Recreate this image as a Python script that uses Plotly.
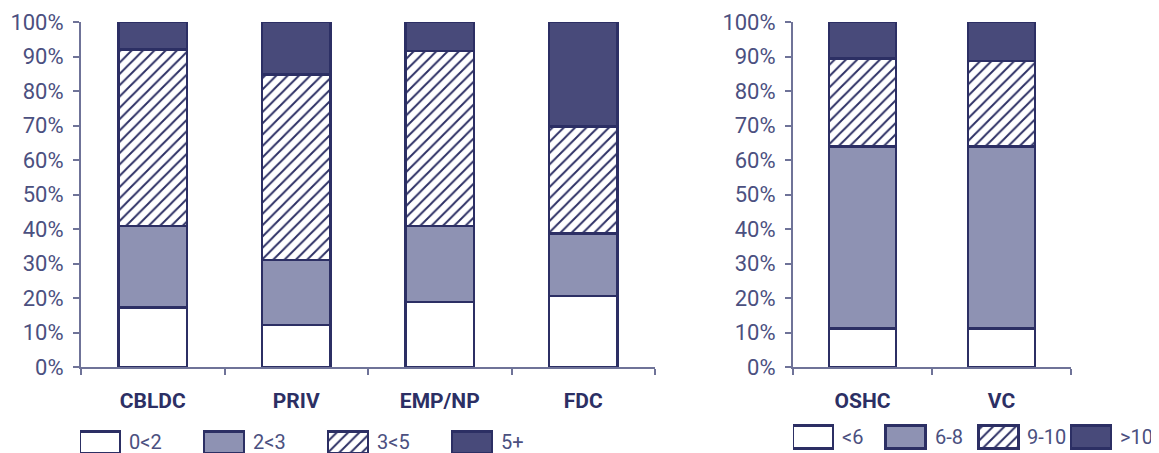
import plotly.graph_objects as go

# ---- data ----
left_categories = ["CBLDC", "PRIV", "EMP/NP", "FDC"]
left_series = ["0<2", "2<3", "3<5", "5+"]
left_0_2 = [0.173, 0.122, 0.189, 0.206]
left_2_3 = [0.236, 0.188, 0.220, 0.181]
left_3_5 = [0.512, 0.537, 0.507, 0.310]
left_5p = [0.079, 0.153, 0.084, 0.303]

right_categories = ["OSHC", "VC"]
right_series = ["<6", "6-8", "9-10", ">10"]
right_lt6 = [0.111, 0.111]
right_6_8 = [0.529, 0.529]
right_9_10 = [0.254, 0.247]
right_gt10 = [0.106, 0.113]

y_ticks = [i / 10 for i in range(11)]

# ---- style ----
NAVY = "#2c2f64"
GRAY = "#8e92b3"
DARK = "#484a7a"
TXT = "#4b5080"
AXIS = "#6f7398"
FONT = "Roboto, sans-serif"
PAD = 8                      # default page (body) margin around the plot
W, H = 1159 - PAD, 453 - PAD


def fx(px):
    return (px - PAD) / W


def fy(py):
    return 1 - (py - PAD) / H


styles = [
    dict(color="white"),
    dict(color=GRAY),
    dict(color="white", pattern=dict(shape="/", size=8, solidity=0.24,
                                     fgcolor=NAVY, bgcolor="white", fillmode="replace")),
    dict(color=DARK),
]
LINE = dict(color=NAVY, width=2.6)

fig = go.Figure()

for name, vals, st in zip(left_series, [left_0_2, left_2_3, left_3_5, left_5p], styles):
    fig.add_trace(go.Bar(x=left_categories, y=vals, name=name, xaxis="x", yaxis="y",
                         marker=dict(line=LINE, **st), showlegend=False))

for name, vals, st in zip(right_series, [right_lt6, right_6_8, right_9_10, right_gt10], styles):
    fig.add_trace(go.Bar(x=right_categories, y=vals, name=name, xaxis="x2", yaxis="y2",
                         marker=dict(line=LINE, **st), showlegend=False))

# ---- legend keys (one box per series, placed by series index) ----
annotations = []
for series, xa, ya, step in [(left_series, "x3", "y3", 124.0),
                             (right_series, "x4", "y4", 92.7)]:
    for i, (name, st) in enumerate(zip(series, styles)):
        fig.add_trace(go.Bar(x=[i], y=[1], base=0, width=40 / step, offset=0,
                             xaxis=xa, yaxis=ya, marker=dict(line=LINE, **st),
                             showlegend=False, hoverinfo="skip", name=name))
        annotations.append(dict(x=i + 47 / step, y=0.5, xref=xa, yref=ya, text=name,
                                showarrow=False, xanchor="left", yanchor="middle",
                                font=dict(family=FONT, size=20, color=TXT)))

ydom = [fy(367), fy(22)]
hidden = dict(visible=False, showgrid=False, zeroline=False, fixedrange=True)

fig.update_layout(
    width=W, height=H,
    barmode="stack", bargap=0.52,
    margin=dict(l=0, r=0, t=0, b=0),
    paper_bgcolor="white", plot_bgcolor="white",
    font=dict(family=FONT, color=TXT, size=21),
    showlegend=False,
    xaxis=dict(domain=[fx(81), fx(655)], anchor="y"),
    yaxis=dict(domain=ydom, anchor="x"),
    xaxis2=dict(domain=[fx(793), fx(1071)], anchor="y2"),
    yaxis2=dict(domain=ydom, anchor="x2"),
    xaxis3=dict(domain=[fx(80), fx(80 + 4 * 124)], range=[0, 4], anchor="y3", **hidden),
    yaxis3=dict(domain=[0, fy(429)], range=[0, 1.12], anchor="x3", **hidden),
    xaxis4=dict(domain=[fx(793), fx(793 + 3.6 * 92.7)], range=[0, 3.6], anchor="y4", **hidden),
    yaxis4=dict(domain=[0, fy(423)], range=[-0.2, 1.1], anchor="x4", **hidden),
    annotations=annotations,
)

for ax in ["xaxis", "xaxis2"]:
    fig.layout[ax].update(showline=True, linecolor=AXIS, linewidth=2, ticks="outside",
                          tickson="boundaries", ticklen=6, tickcolor=AXIS, tickwidth=1.5,
                          showgrid=False, ticklabelstandoff=14, automargin=False,
                          tickfont=dict(family=FONT, size=21, color=NAVY, weight="bold"))
for ax in ["yaxis", "yaxis2"]:
    fig.layout[ax].update(range=[0, 1.0], tickvals=y_ticks, tickformat=".0%",
                          showline=True, linecolor=AXIS, linewidth=2, ticks="outside",
                          ticklen=6, tickcolor=AXIS, tickwidth=1.5, showgrid=False,
                          zeroline=False, ticklabelstandoff=5, automargin=False,
                          tickfont=dict(family=FONT, size=22, color=TXT))

fig.write_html("out.html")
